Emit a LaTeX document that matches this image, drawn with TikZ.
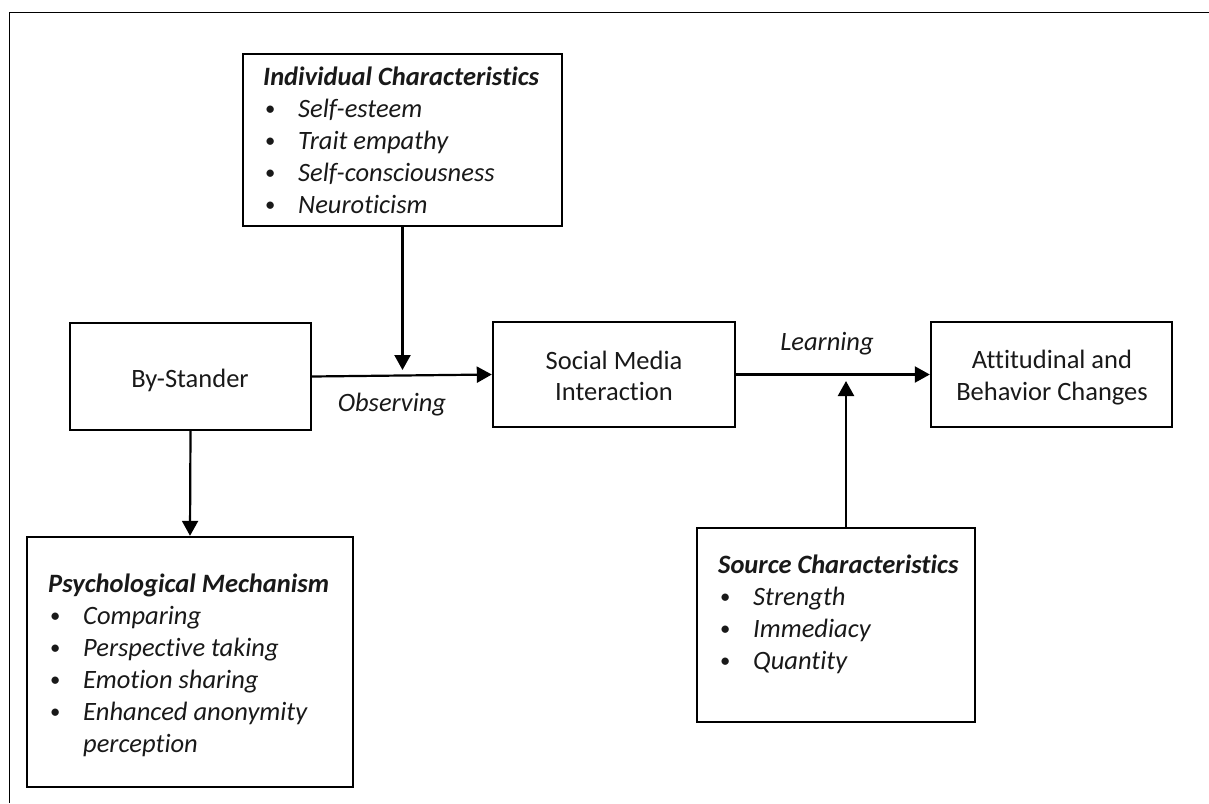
\documentclass[tikz,border=0pt]{standalone}
\usepackage{fontspec}
\setmainfont{Carlito}[RawFeature={-liga;-clig}]
\usetikzlibrary{arrows.meta}
\definecolor{txt}{RGB}{25,25,25}
\tikzset{
  box/.style={draw, line width=2.4pt, inner sep=0pt},
  arr/.style={-{Triangle[width=16pt,length=15pt]}, line width=2.2pt},
  lbl/.style={font=\fontsize{26.5}{32}\selectfont, text=txt, inner sep=0pt},
}
\newcommand{\bl}{\makebox[35pt][l]{\hspace{2pt}\raisebox{1.6pt}{\scalebox{0.78}{\textbullet}}}}
\begin{document}
\begin{tikzpicture}[x=1pt,y=-1pt]
\useasboundingbox (0,0) rectangle (1209,803);
% frame
\draw[line width=1.8pt] (1209,12.5) -- (9.5,12.5) -- (9.5,803);
% boxes
\node[box, minimum width=319pt, minimum height=172pt] (ind) at (402.5,140) {};
\node[box, minimum width=241pt, minimum height=107pt] (bys) at (190.5,376.5) {};
\node[box, minimum width=242pt, minimum height=105pt] (smi) at (614,374.5) {};
\node[box, minimum width=241pt, minimum height=105pt] (att) at (1051.5,374.5) {};
\node[box, minimum width=326pt, minimum height=250pt] (psy) at (190,662) {};
\node[box, minimum width=278pt, minimum height=194pt] (src) at (836,625) {};
% texts
\node[lbl, anchor=base] (bysT) at (190,387) {By-Stander};
\node[lbl, anchor=base] (smiT1) at (614,369) {Social Media};
\node[lbl, anchor=base] (smiT2) at (614,400) {Interaction};
\node[lbl, anchor=base] (attT1) at (1052,368) {Attitudinal and};
\node[lbl, anchor=base] (attT2) at (1052,400) {Behavior Changes};
\node[lbl, anchor=base] (obs) at (392,411) {\textit{Observing}};
\node[lbl, anchor=base] (lrn) at (827,350) {\textit{Learning}};
\node[lbl, anchor=base west] (indT) at (263,85) {\begin{tabular}[t]{@{}l@{}l@{}}
\multicolumn{2}{@{}l@{}}{\textbf{\textit{Individual Characteristics}}}\\
\bl & \textit{Self-esteem}\\
\bl & \textit{Trait empathy}\\
\bl & \textit{Self-consciousness}\\
\bl & \textit{Neuroticism}
\end{tabular}};
\node[lbl, anchor=base west] (psyT) at (48,592) {\begin{tabular}[t]{@{}l@{}l@{}}
\multicolumn{2}{@{}l@{}}{\textbf{\textit{Psychological Mechanism}}}\\
\bl & \textit{Comparing}\\
\bl & \textit{Perspective taking}\\
\bl & \textit{Emotion sharing}\\
\bl & \textit{Enhanced anonymity}\\
\makebox[35pt]{} & \textit{perception}
\end{tabular}};
\node[lbl, anchor=base west] (srcT) at (718,573) {\begin{tabular}[t]{@{}l@{}l@{}}
\multicolumn{2}{@{}l@{}}{\textbf{\textit{Source Characteristics}}}\\
\bl & \textit{Strength}\\
\bl & \textit{Immediacy}\\
\bl & \textit{Quantity}
\end{tabular}};
% connectors
\coordinate (obsTip) at (402.5,370);
\coordinate (lrnTip) at (846,381);
\draw[arr] (bys.east) -- (smi.west);
\draw[arr] (smi.east) -- (att.west);
\draw[arr] (ind.south) -- (obsTip);
\draw[arr] (bys.south) -- (psy.north);
\draw[arr] (src.north -| lrnTip) -- (lrnTip);
\end{tikzpicture}
\end{document}
